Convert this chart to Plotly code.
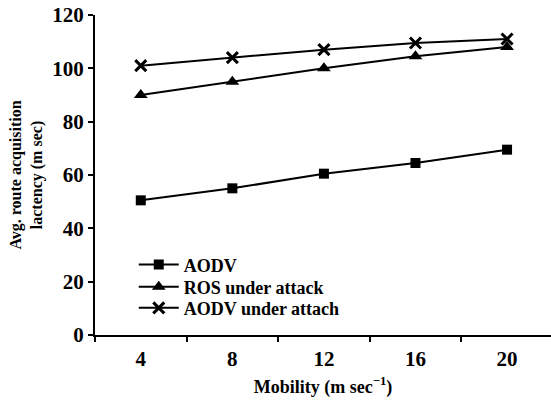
import plotly.graph_objects as go

mobility = ["4", "8", "12", "16", "20"]
aodv = [50.5, 55, 60.5, 64.5, 69.5]
ros_attack = [90, 95, 100, 104.5, 108]
aodv_attach = [101, 104, 107, 109.5, 111]
y_ticks = [0, 20, 40, 60, 80, 100, 120]

FAM = "Liberation Serif"
LEG_FONT = dict(family=FAM, size=18, color="black", weight="bold")
TICK_FONT = dict(family=FAM, size=21, color="black", weight="bold")

fig = go.Figure()
fig.add_trace(go.Scatter(x=mobility, y=aodv, name="AODV", mode="lines+markers",
                         line=dict(color="black", width=2), legend="legend",
                         marker=dict(symbol="square", size=10, color="black")))
fig.add_trace(go.Scatter(x=mobility, y=ros_attack, name="ROS under attack", mode="lines+markers",
                         line=dict(color="black", width=2), legend="legend2",
                         marker=dict(symbol="triangle-up", size=12, color="black")))
fig.add_trace(go.Scatter(x=mobility, y=aodv_attach, name="AODV under attach", mode="lines+markers",
                         line=dict(color="black", width=2), legend="legend3",
                         marker=dict(symbol="x-thin", size=11, color="black",
                                     line=dict(color="black", width=3))))

leg_common = dict(x=0.085, xanchor="left", yanchor="middle", bgcolor="rgba(0,0,0,0)",
                  font=LEG_FONT, itemwidth=40)

fig.update_layout(
    width=551, height=404,
    margin=dict(l=95, r=0, t=15, b=69),
    paper_bgcolor="white", plot_bgcolor="white",
    font=dict(family=FAM, size=18, color="black", weight="bold"),
    showlegend=True,
    legend=dict(y=0.219, **leg_common),
    legend2=dict(y=0.150, **leg_common),
    legend3=dict(y=0.084, **leg_common),
    xaxis=dict(type="category", range=[-0.5, 4.48], tickson="boundaries",
               showline=True, linecolor="black", linewidth=2,
               ticks="outside", ticklen=5, tickwidth=2, tickcolor="black",
               showgrid=False, zeroline=False, ticklabelstandoff=4,
               tickfont=TICK_FONT,
               title=dict(text="Mobility (m sec<sup>−1</sup>)", standoff=10,
                          font=dict(family=FAM, size=18, color="black", weight="bold"))),
    yaxis=dict(range=[0, 120], tickvals=y_ticks,
               showline=True, linecolor="black", linewidth=2,
               ticks="outside", ticklen=5, tickwidth=2, tickcolor="black",
               showgrid=False, zeroline=False,
               tickfont=TICK_FONT,
               title=dict(text="Avg. route acquisition<br>lactency (m sec)", standoff=6,
                          font=dict(family=FAM, size=16, color="black", weight="bold"))),
)

fig.write_html("out.html")
